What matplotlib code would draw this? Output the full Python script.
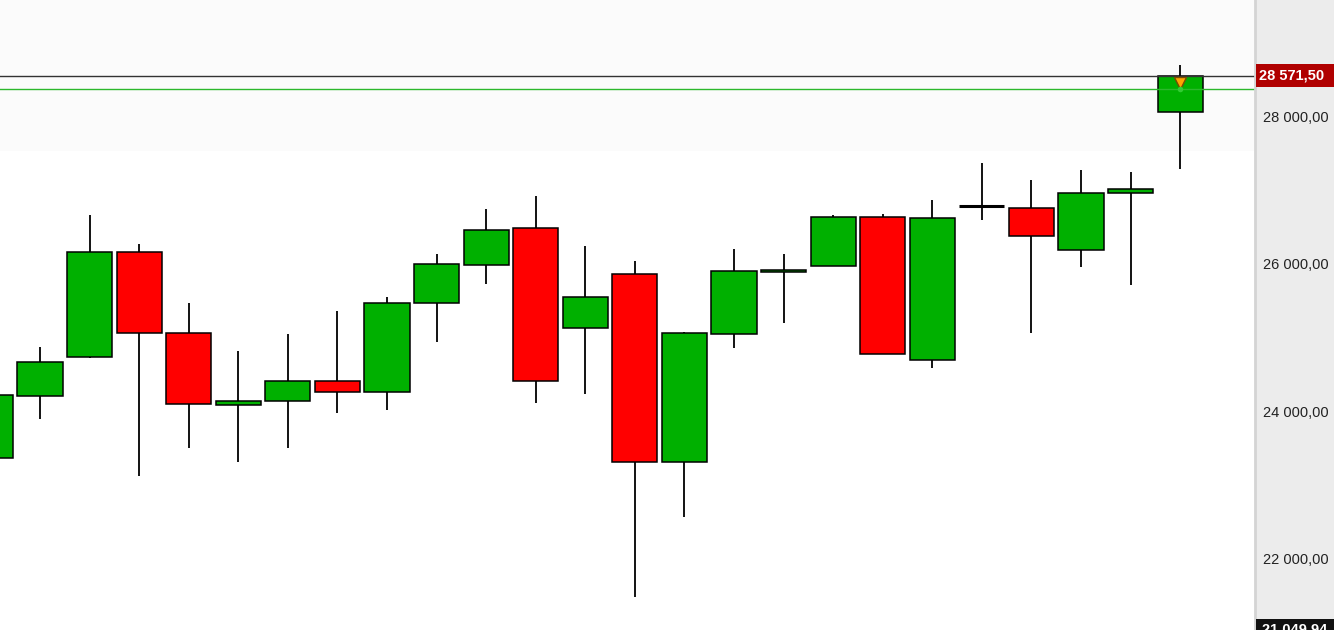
import matplotlib.pyplot as plt
from matplotlib.patches import Rectangle
from matplotlib.transforms import blended_transform_factory

plt.rcParams['font.family'] = ['Liberation Sans', 'DejaVu Sans']

# OHLC values (first candle partly off screen)
opens = [23386, 24226, 24755, 26179, 25081, 24104, 24159, 24430, 24281, 25487,
         26003, 26504, 25149, 25881, 23332, 25067, 25908, 25989, 26654, 24715,
         26811, 26776, 26206, 26979, 28077]
closes = [24235, 24687, 26179, 25081, 24118, 24159, 24430, 24281, 25487, 26016,
          26477, 24430, 25569, 23332, 25081, 25921, 25935, 26654, 24796, 26640,
          26811, 26396, 26979, 27033, 28571.5]
highs = [24300, 24895, 26685, 26292, 25492, 24841, 25071, 25383, 25573, 26156,
         26766, 26942, 26264, 26061, 25095, 26224, 26156, 26685, 26698, 26888,
         27390, 27159, 27295, 27268, 28719]
lows = [23300, 23909, 24742, 23137, 23516, 23326, 23516, 23991, 24031, 24953,
        25740, 24126, 24248, 21496, 22581, 24872, 25211, 25989, 24796, 24601,
        26621, 25075, 25970, 25726, 27313]

last_price = 28571.50
green_level = 28390
axis_min = 21049.94
y_ticks = [22000, 24000, 26000, 28000]

up_col = '#00b000'
down_col = '#ff0000'


def fmt(v):
    return f"{v:,.2f}".replace(",", " ").replace(".", ",")


fig = plt.figure(figsize=(13.34, 6.30), dpi=100)
ax = fig.add_axes([0, 0, 1255 / 1334, 1])
ax.set_facecolor('#fefefe')
ax.axhspan(27550, 29700, color='#fbfbfb', zorder=0, lw=0)

w = 0.91
for i, (o, c, h, l) in enumerate(zip(opens, closes, highs, lows)):
    ax.vlines(i, l, h, color='black', lw=1.3, zorder=2)
    if abs(c - o) < 1:
        ax.hlines(o, i - w / 2, i + w / 2, color='black', lw=2.2, zorder=3)
    else:
        col = up_col if c > o else down_col
        ax.bar(i, abs(c - o), bottom=min(o, c), width=w, color=col,
               edgecolor='black', lw=1.1, zorder=3)

ax.axhline(last_price, color='#333333', lw=1, zorder=4)
ax.axhline(green_level, color='#2cb82c', lw=1, zorder=4)
ax.plot(len(opens) - 1, 28480, marker='v', ms=9, color='#ffa500',
        mec='#7a4a00', mew=1, zorder=5)
ax.plot(len(opens) - 1, green_level, marker='o', ms=4, color='#33cc33',
        mec='none', zorder=5)

ax.set_xlim(0.193, 25.51)
ax.set_ylim(axis_min, 29600)
ax.axis('off')

# price scale panel
ax2 = fig.add_axes([1255 / 1334, 0, 79 / 1334, 1], sharey=ax)
ax2.set_facecolor('#ececec')
ax2.set_xlim(0, 1)
ax2.set_xticks([])
ax2.tick_params(left=False, labelleft=False)
for s in ['top', 'right', 'bottom']:
    ax2.spines[s].set_visible(False)
ax2.spines['left'].set_color('#d4d4d4')
ax2.spines['left'].set_linewidth(2)
tr = blended_transform_factory(ax2.transAxes, ax2.transData)
for t in y_ticks:
    ax2.text(0.10, t, fmt(t), transform=tr, ha='left', va='center',
             fontsize=10.5, color='#222222')

px = (29600 - axis_min) / 630
ax2.add_patch(Rectangle((0.015, last_price - 11.5 * px), 1, 23 * px,
                        transform=tr, fc='#b00000', ec='none', zorder=3))
ax2.text(0.05, last_price, fmt(last_price), transform=tr, ha='left',
         va='center', fontsize=10.5, fontweight='bold', color='white', zorder=4)
ax2.add_patch(Rectangle((0.015, axis_min - 11.5 * px), 1, 23 * px,
                        transform=tr, fc='#111111', ec='none', zorder=3))
ax2.text(0.09, axis_min, fmt(axis_min), transform=tr, ha='left',
         va='center', fontsize=10.5, fontweight='bold', color='white', zorder=4)

fig.savefig('out.png', dpi=100)
